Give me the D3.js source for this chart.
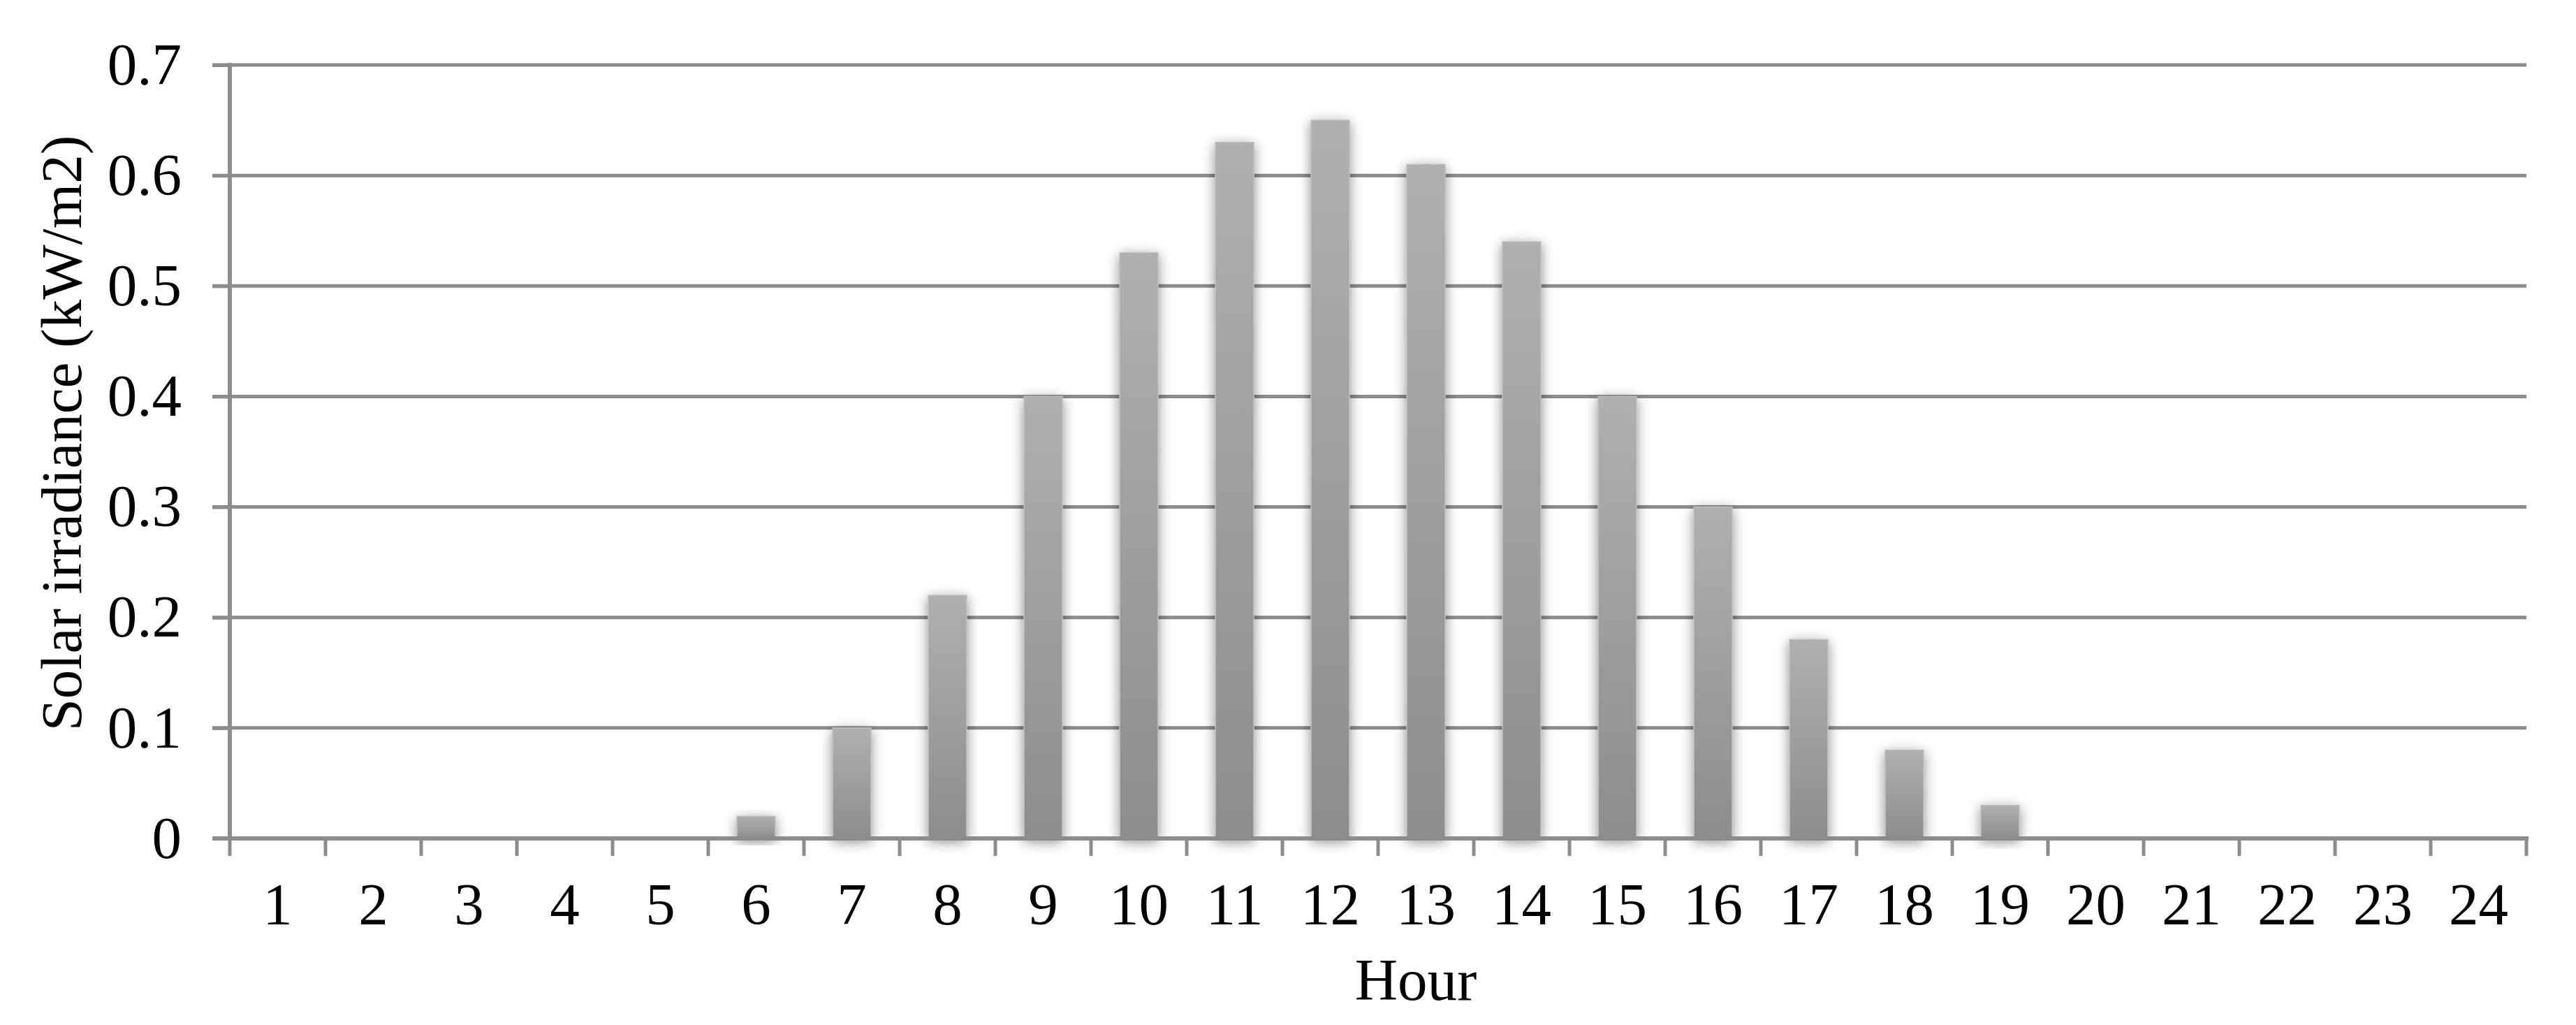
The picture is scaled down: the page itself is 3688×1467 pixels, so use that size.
<!DOCTYPE html>
<html>
<head>
<meta charset="utf-8">
<script src="https://cdn.jsdelivr.net/npm/d3@7"></script>
<style>
  html, body { margin: 0; padding: 0; background: #ffffff; }
  svg { display: block; }
  text { font-family: "Liberation Serif", "Times New Roman", serif; fill: #000; }
</style>
</head>
<body>
<svg id="chart" width="3688" height="1467"></svg>
<script>
const hours = ["1","2","3","4","5","6","7","8","9","10","11","12","13","14","15","16","17","18","19","20","21","22","23","24"];
const irradiance = [0,0,0,0,0,0.02,0.10,0.22,0.40,0.53,0.63,0.65,0.61,0.54,0.40,0.30,0.18,0.08,0.03,0,0,0,0,0];
const yTicks = [0,0.1,0.2,0.3,0.4,0.5,0.6,0.7];
const xTitle = "Hour";
const yTitle = "Solar irradiance (kW/m2)";

const W = 3688, H = 1467;
const m = {left: 329, right: 71, top: 93, bottom: 267};
const iw = W - m.left - m.right, ih = H - m.top - m.bottom;
const fontSize = 85;
const axisColor = "#8c8c8c";

const svg = d3.select("#chart");
const defs = svg.append("defs");
const grad = defs.append("linearGradient").attr("id","barGrad")
  .attr("x1",0).attr("y1",0).attr("x2",0).attr("y2",1);
grad.append("stop").attr("offset","0%").attr("stop-color","#b0b0b0");
grad.append("stop").attr("offset","100%").attr("stop-color","#8d8d8d");
const filt = defs.append("filter").attr("id","shadow")
  .attr("x","-60%").attr("y","-30%").attr("width","220%").attr("height","160%");
filt.append("feDropShadow").attr("dx",0).attr("dy",4).attr("stdDeviation",9)
  .attr("flood-color","#000").attr("flood-opacity",0.45);

const g = svg.append("g").attr("transform",`translate(${m.left},${m.top})`);

const x = d3.scaleBand().domain(hours).range([0, iw]).paddingInner(0.6).paddingOuter(0.3);
const y = d3.scaleLinear().domain([0, 0.7]).range([ih, 0]);

// gridlines
g.append("g").selectAll("line").data(yTicks.filter(d => d > 0)).join("line")
  .attr("x1", -25).attr("x2", iw)
  .attr("y1", d => y(d)).attr("y2", d => y(d))
  .attr("stroke", axisColor).attr("stroke-width", 5);

// bars
g.append("g").selectAll("rect").data(irradiance.map((v,i)=>({h:hours[i], v}))).join("rect")
  .filter(d => d.v > 0)
  .attr("x", d => x(d.h)).attr("width", x.bandwidth())
  .attr("y", d => y(d.v)).attr("height", d => y(0) - y(d.v))
  .attr("fill", "url(#barGrad)")
  .attr("stroke", "#bcbcbc").attr("stroke-width", 1.5)
  .attr("filter", "url(#shadow)");

// y axis
const yAxis = d3.axisLeft(y).tickValues(yTicks).tickSize(25).tickPadding(44)
  .tickFormat(d => d === 0 ? "0" : d3.format(".1f")(d));
const ya = g.append("g").call(yAxis);
ya.select(".domain").attr("stroke", axisColor).attr("stroke-width", 6)
  .attr("d", `M0,${-3}V${ih}`);
ya.selectAll(".tick line").attr("stroke", axisColor).attr("stroke-width", 5);
ya.selectAll(".tick text").attr("font-size", fontSize)
  .attr("font-family", '"Liberation Serif", "Times New Roman", serif').attr("fill","#000");

// x axis baseline
const xa = g.append("g").attr("transform", `translate(0,${ih})`);
xa.append("line").attr("x1",-25).attr("x2",iw+3).attr("y1",0).attr("y2",0)
  .attr("stroke", axisColor).attr("stroke-width", 6);
const boundaries = d3.range(hours.length + 1).map(i => i * iw / hours.length);
xa.selectAll("line.tk").data(boundaries).join("line").attr("class","tk")
  .attr("x1", d => d).attr("x2", d => d).attr("y1", 0).attr("y2", 25)
  .attr("stroke", axisColor).attr("stroke-width", 5);
xa.selectAll("text").data(hours).join("text")
  .attr("x", d => x(d) + x.bandwidth()/2).attr("y", 123)
  .attr("text-anchor","middle").attr("font-size", fontSize).text(d => d);

// axis titles
svg.append("text").attr("x", 2027).attr("y", 1431)
  .attr("text-anchor","middle").attr("font-size", fontSize).text(xTitle);
svg.append("text").attr("transform", `translate(116,620) rotate(-90)`)
  .attr("text-anchor","middle").attr("font-size", 83).text(yTitle);
</script>
</body>
</html>
